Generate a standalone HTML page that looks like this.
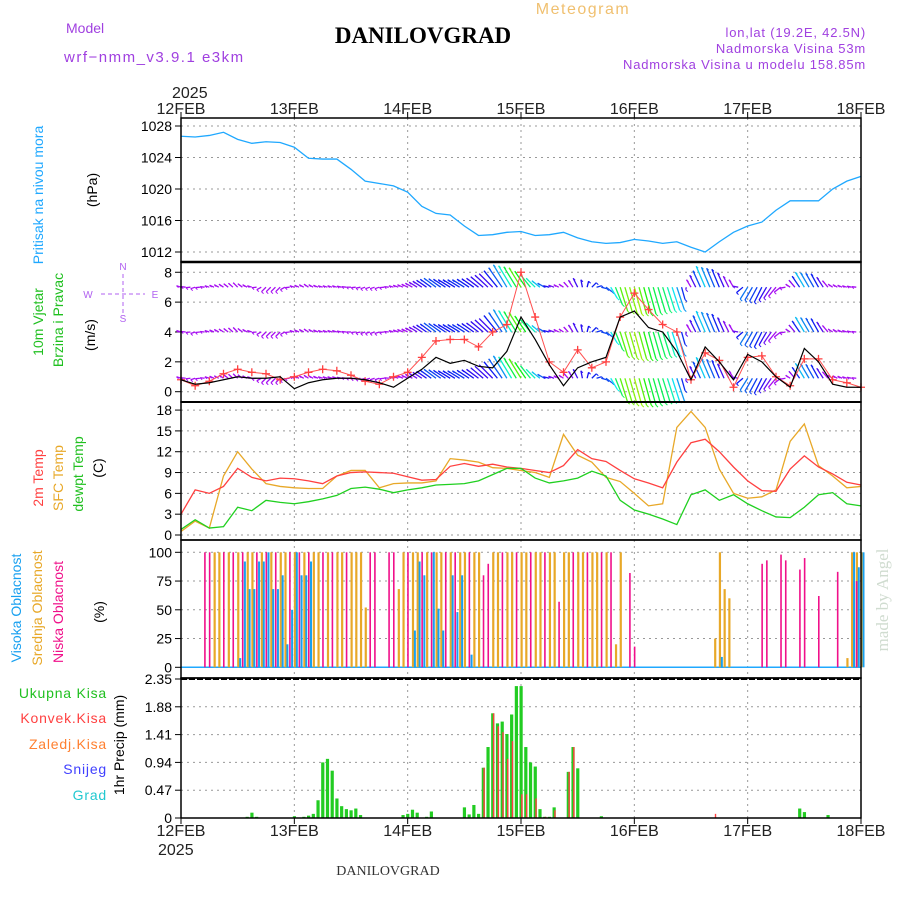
<!DOCTYPE html>
<html><head><meta charset="utf-8"><style>
body{margin:0;background:#fff;width:900px;height:900px;overflow:hidden}
svg text{font-family:"Liberation Sans",sans-serif}
</style></head><body>
<svg id="c" width="900" height="900" xmlns="http://www.w3.org/2000/svg">
<text x="66" y="33" font-size="14" fill="#a040e0">Model</text>
<text x="64" y="62" font-size="15" fill="#a040e0" letter-spacing="1.5">wrf−nmm_v3.9.1  e3km</text>
<text x="423" y="43" font-size="23" font-weight="bold" text-anchor="middle" font-family="Liberation Serif" style="font-family:'Liberation Serif',serif">DANILOVGRAD</text>
<text x="583" y="14" font-size="16" fill="#f0c070" text-anchor="middle" letter-spacing="1.5">Meteogram</text>
<text x="866" y="37" font-size="13" fill="#a040e0" text-anchor="end" letter-spacing="0.8">lon,lat (19.2E, 42.5N)</text>
<text x="866" y="53" font-size="13" fill="#a040e0" text-anchor="end" letter-spacing="0.8">Nadmorska Visina 53m</text>
<text x="866" y="69" font-size="13" fill="#a040e0" text-anchor="end" letter-spacing="0.8">Nadmorska Visina u modelu 158.85m</text>
<text x="172" y="98" font-size="16" fill="#222">2025</text>
<text x="158" y="855" font-size="16" fill="#222">2025</text>
<text x="388" y="875" font-size="14" text-anchor="middle" style="font-family:'Liberation Serif',serif" fill="#333">DANILOVGRAD</text>
<text transform="translate(888,600) rotate(-90)" font-size="17" fill="#d0dcd0" text-anchor="middle" style="font-family:'Liberation Serif',serif">made by Angel</text>
<g id="axes"></g>
</svg>
<script>
// ===== data =====
const dayLabels=["12FEB","13FEB","14FEB","15FEB","16FEB","17FEB","18FEB"];
const hours3=[0,3,6,9,12,15,18,21,24,27,30,33,36,39,42,45,48,51,54,57,60,63,66,69,72,75,78,81,84,87,90,93,96,99,102,105,108,111,114,117,120,123,126,129,132,135,138,141,144];
const pressure=[1026.7,1026.6,1026.8,1027.2,1026.3,1025.8,1026.0,1025.9,1025.3,1023.9,1023.8,1023.8,1022.5,1021.0,1020.7,1020.4,1019.6,1017.8,1016.9,1016.7,1015.3,1014.1,1014.2,1014.5,1014.6,1014.1,1014.2,1014.5,1013.8,1013.3,1013.1,1013.2,1013.6,1013.4,1013.1,1013.3,1012.6,1012.0,1013.3,1014.5,1015.3,1015.8,1017.3,1018.5,1018.5,1018.5,1020.0,1021.0,1021.6];
const windSpeed=[0.8,0.5,0.6,0.8,1.0,0.9,0.9,1.0,0.2,0.6,0.8,0.9,0.9,0.8,0.6,0.3,0.9,1.5,2.3,1.9,2.1,1.7,1.6,2.7,5.0,3.5,1.8,0.4,1.6,2.0,2.3,5.0,5.4,4.3,4.0,2.7,0.8,3.0,2.0,0.8,2.5,2.0,1.0,0.3,2.9,2.0,0.5,0.3,0.3];
const windGust=[0.8,0.4,0.7,1.2,1.5,1.3,1.2,0.8,1.0,1.3,1.5,1.4,1.1,0.7,0.5,1.0,1.3,2.3,3.4,3.5,3.5,3.0,4.0,4.5,8.0,5.0,2.0,1.3,2.8,1.6,2.0,5.0,6.6,5.5,4.5,4.0,0.8,2.6,2.1,0.3,2.3,2.4,1.0,0.4,2.2,2.2,0.8,0.6,0.3];
const windV=[0.1,-0.1,0.1,0.2,0.3,0.1,-0.3,-0.3,0.1,0.2,0.1,0.1,0.0,-0.1,-0.1,0.1,0.2,0.4,0.6,0.5,0.5,0.6,0.9,1.5,1.3,0.6,0.1,0.2,0.6,0.3,-0.3,-1.6,-1.8,-1.8,-1.6,-1.5,0.5,1.4,1.2,0.5,-0.8,-1.0,-0.6,0.2,1.0,0.9,0.2,0.1,0.0];
const windU=[-0.3,-0.3,-0.3,-0.3,-0.3,-0.3,-0.3,-0.3,-0.3,-0.3,-0.3,-0.3,-0.3,-0.3,-0.3,-0.3,-0.4,-0.6,-0.8,-0.8,-0.8,-0.8,-0.9,-0.9,-0.8,-0.6,-0.4,-0.3,-0.3,0.3,0.4,0.5,0.5,0.5,0.5,0.5,-0.3,-0.6,-0.5,-0.3,-0.5,-0.5,-0.5,-0.3,-0.6,-0.5,-0.3,-0.3,-0.3];
const windLevels=[0.9,4,7];
const temp2m=[3.0,6.5,6.0,7.0,9.6,8.3,7.8,8.2,8.1,7.8,7.4,8.5,9.0,9.1,9.0,8.9,8.4,7.9,8.0,9.9,10.3,9.9,10.2,9.8,9.6,9.3,9.0,10.0,12.3,11.0,10.6,9.3,8.1,7.5,6.8,10.5,13.3,13.8,12.0,9.8,7.8,6.4,6.3,9.5,11.4,9.8,8.8,7.6,7.2];
const tempSfc=[0.5,2.0,1.0,8.5,12.0,9.5,7.4,7.0,6.8,6.7,6.7,8.5,9.3,9.3,6.8,7.4,7.5,7.5,7.8,11.0,10.8,10.5,9.7,9.6,9.3,9.0,8.3,14.5,11.5,10.5,8.3,7.7,6.0,4.2,4.5,15.5,17.8,15.5,9.5,6.0,5.3,5.5,6.5,13.5,16.0,10.0,8.5,6.8,7.0];
const tempDew=[0.8,2.2,1.0,1.2,4.0,3.5,5.0,4.7,4.5,4.8,5.2,5.7,6.7,6.9,6.6,6.1,6.5,6.8,7.2,7.3,7.4,7.8,8.7,9.6,9.6,8.2,7.5,7.8,8.2,9.2,8.5,5.0,3.6,3.0,2.3,1.5,5.8,6.5,5.0,5.8,4.5,3.5,2.6,2.5,4.0,5.8,6.1,4.5,4.2];
const cloudLow=[0,0,0,0,0,100,100,0,0,100, 0,100,0,100,0,0,100,0,100,0, 100,0,0,100,0,100,0,100,0,0, 100,0,100,0,0,100,0,0,0,0, 100,100,0,0,100,100,0,0,100,0, 0,100,0,100,0,0,100,0,100,0, 0,100,0,0,80,90,0,0,100,0, 0,100,0,0,100,0,0,100,0,0, 57,0,0,100,0,0,100,0,0,100, 0,100,0,0,0,82,18,0,0,0, 0,0,0,0,0,0,0,0,0,0, 0,0,0,0,0,0,0,0,0,0, 0,0,0,90,93,0,0,98,93,0, 0,85,95,0,0,62,0,0,0,83, 0,0,0,75,0];
const cloudMid=[0,0,0,0,0,0,0,100,100,0, 100,0,100,0,100,100,0,100,0,100, 0,100,100,0,100,0,100,0,100,100, 0,100,0,100,100,0,100,100,100,52, 0,0,0,0,0,0,68,100,0,100, 100,0,100,0,100,100,0,100,0,100, 100,0,100,100,0,0,100,100,0,100, 100,0,100,100,0,100,100,0,100,100, 0,100,100,0,100,100,0,100,100,0, 100,0,20,100,0,0,0,0,0,0, 0,0,0,0,0,0,0,0,0,0, 0,0,0,25,100,68,60,0,0,0, 0,0,0,0,0,0,0,0,0,0, 0,0,0,0,0,0,0,0,0,0, 0,8,100,100,100];
const cloudHigh=[0,0,0,0,0,0,0,0,0,0, 0,0,8,92,68,68,92,92,100,68, 68,80,20,50,100,80,80,92,0,0, 0,0,0,0,0,0,0,0,0,0, 0,0,0,0,0,0,0,0,0,32, 92,80,0,100,51,32,0,80,48,80, 0,11,0,0,0,0,0,0,0,0, 0,0,0,0,0,0,0,0,0,0, 0,0,0,0,0,0,0,0,0,0, 0,0,0,0,0,0,0,0,0,0, 0,0,0,0,0,0,0,0,0,0, 0,0,0,0,9,0,0,0,0,0, 0,0,0,0,0,0,0,0,0,0, 0,0,0,0,0,0,0,0,0,0, 0,0,100,87,100];
const precipHours=[14,15,16,24,26,27,28,29,30,31,32,33,34,35,36,37,38,47,48,49,50,52,53,60,61,62,63,64,65,66,67,68,69,70,71,72,73,74,75,76,77,78,79,82,83,84,89,131,132,137];
const precipTotal=[0.02,0.09,0.02,0.03,0.02,0.04,0.07,0.3,0.94,1.0,0.8,0.33,0.2,0.15,0.13,0.16,0.05,0.05,0.07,0.14,0.09,0.02,0.11,0.18,0.06,0.22,0.07,0.85,1.2,1.77,1.6,1.63,1.42,1.75,2.23,2.23,1.2,0.94,0.87,0.15,0.02,0.02,0.18,0.78,1.2,0.84,0.03,0.16,0.1,0.05];
const convHours=[64,66,67,68,69,70,72,73,75,77,79,82,83,113];
const convVal=[0.85,1.77,1.55,1.45,1.0,1.3,0.4,0.4,0.33,0.02,0.13,0.78,1.2,0.07];
const pTicks=[1012,1016,1020,1024,1028];
const wTicks=[0,2,4,6,8];
const tTicks=[0,3,6,9,12,15,18];
const cTicks=[0,25,50,75,100];
const rTicks=[0,0.47,0.94,1.41,1.88,2.35];

// ===== scales =====
const L=181,R=861;
const X=h=>L+h*(R-L)/144;
const YP=p=>252-(p-1012)*7.875;
const YW=s=>391.7-s*14.93;
const YT=t=>535-t*6.94;
const YC=c=>667.3-c*1.15;
const YR=r=>818-r*(139/2.35);
const panels=[[118,262],[262,402],[402,540],[540,678],[678,818]];
const NS="http://www.w3.org/2000/svg";
const g=document.getElementById('axes');
function el(tag,attrs,parent){const e=document.createElementNS(NS,tag);for(const k in attrs)e.setAttribute(k,attrs[k]);(parent||g).appendChild(e);return e;}
function txt(x,y,s,attrs){const e=el('text',Object.assign({x:x,y:y},attrs||{}));e.textContent=s;return e;}

panels.forEach((p,i)=>{
  for(let d=1;d<6;d++){
    const l=el('line',{x1:X(d*24),x2:X(d*24),y1:p[0],y2:p[1],stroke:'#999','stroke-dasharray':'2,4','stroke-width':1});
    
    
  }
});
function hgrid(ticks,Y,fmt){
  ticks.forEach(t=>{
    const l=el('line',{x1:L,x2:R,y1:Y(t),y2:Y(t),stroke:'#999','stroke-dasharray':'2,4'});
    
    
    el('line',{x1:L-6,x2:L,y1:Y(t),y2:Y(t),stroke:'#000'});
    const tt=txt(172,Y(t)+5,fmt?fmt(t):String(t),{'font-size':14,'text-anchor':'end',fill:'#000'});
    
    
  });
}
hgrid(pTicks,YP);hgrid(wTicks,YW);hgrid(tTicks,YT);hgrid(cTicks,YC);hgrid(rTicks,YR,t=>t===0?'0':t.toFixed(2));

el('polyline',{points:hours3.map((h,i)=>X(h)+','+YP(pressure[i])).join(' '),fill:'none',stroke:'#1fa8ff','stroke-width':1.3});

const hue=s=>Math.max(20,280-Math.max(0,s-1)*45);
windLevels.forEach(lv=>{
  hours3.forEach((h,i)=>{
    if(i===hours3.length-1)return;
    for(let k=0;k<3;k++){
      const hh=h+k;const f=k/3;
      const v=windV[i]*(1-f)+windV[i+1]*f;
      const u=windU[i]*(1-f)+windU[i+1]*f;
      const s=windSpeed[i]*(1-f)+windSpeed[i+1]*f;
      const x0=X(hh),y0=YW(lv);
      const x1=x0+u*14.93,y1=y0-v*14.93;
      const col='hsl('+hue(s)+',90%,50%)';
      const a=el('line',{x1:x0,y1:y0,x2:x1,y2:y1,stroke:col,'stroke-width':1.3});
      
      
      el('line',{x1:x1,y1:y1,x2:x1+2,y2:y1+2,stroke:col,'stroke-width':1});
    }
  });
});
el('polyline',{points:hours3.map((h,i)=>X(h)+','+YW(windGust[i])).join(' '),fill:'none',stroke:'#ff5050','stroke-width':1});
hours3.forEach((h,i)=>{
  const x=X(h),y=YW(windGust[i]);
  const p=el('path',{d:`M${x-4},${y}H${x+4}M${x},${y-4}V${y+4}`,stroke:'#ff4040','stroke-width':1.3});
  
  
});
el('polyline',{points:hours3.map((h,i)=>X(h)+','+YW(windSpeed[i])).join(' '),fill:'none',stroke:'#000','stroke-width':1.2});

[[tempSfc,'#e8a828','sfc-temp-line'],[temp2m,'#ff4040','temp-2m-line'],[tempDew,'#20d020','dewpoint-line']].forEach(([arr,col,nm])=>{
  const l=el('polyline',{points:hours3.map((h,i)=>X(h)+','+YT(arr[i])).join(' '),fill:'none',stroke:col,'stroke-width':1.3});
  
});

el('line',{x1:L,x2:R,y1:YC(0),y2:YC(0),stroke:'#1fa8ff','stroke-width':1.5});
for(let h=0;h<=144;h++){
  const x=X(h);
  if(cloudMid[h]>0){const b=el('rect',{x:x-0.5,y:YC(cloudMid[h]),width:2.2,height:YC(0)-YC(cloudMid[h]),fill:'#e8a828'});}
  if(cloudLow[h]>0){const b=el('rect',{x:x-0.5,y:YC(cloudLow[h]),width:1.6,height:YC(0)-YC(cloudLow[h]),fill:'#f0108a'});}
  if(cloudHigh[h]>0){const b=el('rect',{x:x+1.5,y:YC(cloudHigh[h]),width:2,height:YC(0)-YC(cloudHigh[h]),fill:'#18a0f0'});}
}

precipHours.forEach((h,i)=>{
  const b=el('rect',{x:X(h)-1.5,y:YR(precipTotal[i]),width:3.2,height:YR(0)-YR(precipTotal[i]),fill:'#22cc22'});
  
  
});
convHours.forEach((h,i)=>{
  const b=el('rect',{x:X(h)+0.2,y:YR(convVal[i]),width:1.4,height:YR(0)-YR(convVal[i]),fill:'#ff4040'});
  
  
});

panels.forEach(p=>{
  const f=el('rect',{x:L,y:p[0],width:R-L,height:p[1]-p[0],fill:'none',stroke:'#000','stroke-width':1.5});
  
  
});
el('line',{x1:L,x2:R,y1:262,y2:262,stroke:'#000','stroke-width':2.5});
el('line',{x1:L,x2:R,y1:402,y2:402,stroke:'#000','stroke-width':2});
el('line',{x1:L,x2:R,y1:679,y2:679,stroke:'#000','stroke-width':2,'stroke-dasharray':'6,2'});
for(let d=0;d<=6;d++){
  el('line',{x1:X(d*24),x2:X(d*24),y1:112,y2:118,stroke:'#000'});
  el('line',{x1:X(d*24),x2:X(d*24),y1:818,y2:824,stroke:'#000'});
  const a=txt(X(d*24),114,dayLabels[d],{'font-size':16,'text-anchor':'middle',fill:'#222'});
  
  
  const b=txt(X(d*24),836,dayLabels[d],{'font-size':16,'text-anchor':'middle',fill:'#222'});
  
  
}

function vlab(x,y,s,col,nm,fs){const t=txt(0,0,s,{transform:`translate(${x},${y}) rotate(-90)`,'font-size':fs||14,'text-anchor':'middle',fill:col});}
vlab(43,195,'Pritisak na nivou mora','#1fa8ff','pressure-title');
vlab(97,190,'(hPa)','#000','pressure-unit');
vlab(43,322,'10m Vjetar','#20c020','wind-title-1');
vlab(63,320,'Brzina i Pravac','#20c020','wind-title-2');
vlab(95,335,'(m/s)','#000','wind-unit');
vlab(43,478,'2m Temp','#ff4040','temp2m-title');
vlab(63,478,'SFC Temp','#e8a828','sfc-title');
vlab(83,474,'dewpt Temp','#20c020','dew-title');
vlab(103,468,'(C)','#000','temp-unit');
vlab(21,608,'Visoka Oblacnost','#18a0f0','cloud-high-title');
vlab(42,608,'Srednja Oblacnost','#e8a828','cloud-mid-title');
vlab(63,612,'Niska Oblacnost','#f0108a','cloud-low-title');
vlab(104,612,'(%)','#000','cloud-unit');
vlab(124,745,'1hr Precip (mm)','#000','precip-unit');
[['Ukupna Kisa','#20c020',698],['Konvek.Kisa','#ff4040',723],['Zaledj.Kisa','#ff8030',749],['Snijeg','#4040ff',774],['Grad','#20c8d0',800]].forEach(([s,c,y])=>{
  const t=txt(107,y,s,{'font-size':14,'text-anchor':'end',fill:c,'letter-spacing':'0.8'});
  
  
});
const cp=el('g',{fill:'#b060f0','font-size':10,stroke:'none'});


[['N',123,270],['W',88,298],['E',155,298],['S',123,322]].forEach(([s,x,y])=>txt(x,y,s,{'font-size':10,fill:'#b060f0','text-anchor':'middle'}));
el('path',{d:'M101,294H145M123,274V316',stroke:'#b060f0','stroke-dasharray':'4,3','stroke-width':1,fill:'none'});
</script>
</body></html>
